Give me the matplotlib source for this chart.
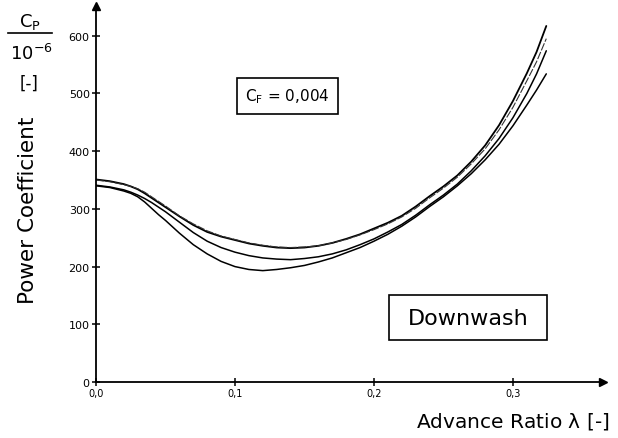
import matplotlib
matplotlib.use('Agg')
import matplotlib.pyplot as plt
from matplotlib.patches import Rectangle
from matplotlib.lines import Line2D

W, H = 618, 439

lam = [0.0, 0.01, 0.02, 0.025, 0.03, 0.035, 0.04, 0.045, 0.05, 0.06, 0.07,
       0.08, 0.09, 0.10, 0.11, 0.12, 0.13, 0.14, 0.15, 0.16, 0.17, 0.18,
       0.19, 0.20, 0.21, 0.22, 0.23, 0.24, 0.25, 0.26, 0.27, 0.28, 0.29,
       0.30, 0.31, 0.317, 0.324]

cp_a = [351, 348, 343, 339, 334, 327, 319, 311, 303, 287, 272,
        260, 252, 246, 240, 236, 233, 232, 233, 236, 241, 248,
        256, 266, 276, 288, 304, 322, 339, 358, 382, 410, 445,
        487, 535, 572, 617]
cp_b = [350, 347, 342, 339, 335, 329, 321, 313, 305, 288, 274,
        262, 253, 247, 241, 237, 234, 233, 234, 236, 241, 247,
        255, 264, 274, 286, 301, 319, 336, 355, 378, 404, 437,
        476, 522, 555, 595]
cp_c = [341, 338, 333, 329, 324, 318, 311, 303, 295, 277, 259,
        244, 233, 225, 219, 215, 213, 212, 214, 217, 222, 229,
        238, 248, 260, 273, 289, 307, 324, 343, 366, 392, 422,
        458, 500, 534, 574]
cp_d = [340, 337, 331, 327, 321, 312, 301, 290, 280, 258, 238,
        222, 209, 200, 195, 193, 195, 198, 202, 208, 215, 224,
        233, 244, 256, 270, 286, 304, 321, 340, 361, 385, 412,
        444, 480, 506, 534]

x_ticks = [0.0, 0.1, 0.2, 0.3]
x_tick_labels = ["0,0", "0,1", "0,2", "0,3"]
y_ticks = [0, 100, 200, 300, 400, 500, 600]


def fx(px):
    return px / W


def fy(py):
    return 1 - py / H


fig = plt.figure(figsize=(W / 100, H / 100), dpi=100)
ax = fig.add_axes([fx(96), fy(383), fx(603) - fx(96), fy(7) - fy(383)])
ax.set_xlim(0, 0.3648)
ax.set_ylim(0, 651.6)

# ── curves ────────────────────────────────────────────────────────────────
ax.plot(lam, cp_a, color='black', lw=1.3, solid_capstyle='round')
ax.plot(lam, cp_b, color='#333333', lw=0.8, ls=(0, (7, 1.5)))
ax.plot(lam, cp_c, color='black', lw=1.1, solid_capstyle='round')
ax.plot(lam, cp_d, color='black', lw=1.1, solid_capstyle='round')

# ── axes with arrows ──────────────────────────────────────────────────────
for s in ['top', 'right']:
    ax.spines[s].set_visible(False)
for s in ['left', 'bottom']:
    ax.spines[s].set_linewidth(1.3)
ax.plot(1, 0, '>k', ms=6, transform=ax.get_yaxis_transform(), clip_on=False)
ax.plot(0, 1, '^k', ms=6, transform=ax.get_xaxis_transform(), clip_on=False)

ax.set_xticks(x_ticks)
ax.set_xticklabels(x_tick_labels)
ax.set_yticks(y_ticks)
ax.tick_params(axis='both', direction='inout', length=6, width=1.1)
ax.tick_params(axis='y', labelsize=8, pad=1.5)
ax.tick_params(axis='x', labelsize=7, pad=1.5)
ax.set_facecolor('none')

# ── labels ────────────────────────────────────────────────────────────────
fig.text(fx(28), fy(210), "Power Coefficient", rotation=90,
         ha='center', va='center', fontsize=15.5)
fig.text(fx(609), fy(428), r"Advance Ratio $\mathregular{\lambda}$ [-]",
         ha='right', va='baseline', fontsize=14.5)

fig.text(fx(30), fy(22), r"C$_\mathregular{P}$", ha='center', va='center',
         fontsize=13)
fig.add_artist(Line2D([fx(8), fx(52)], [fy(34), fy(34)], color='black',
                      lw=1.2, transform=fig.transFigure))
fig.text(fx(31), fy(54), r"10$^\mathregular{-6}$", ha='center', va='center',
         fontsize=13)
fig.text(fx(29), fy(84), "[-]", ha='center', va='center', fontsize=12)

# ── annotation boxes ──────────────────────────────────────────────────────
fig.add_artist(Rectangle((fx(237), fy(115)), fx(338) - fx(237),
                         fy(79) - fy(115), fill=False, lw=1.2,
                         transform=fig.transFigure))
fig.text(fx(287), fy(97), r"C$_\mathregular{F}$ = 0,004", ha='center',
         va='center', fontsize=11)

fig.add_artist(Rectangle((fx(389), fy(341)), fx(547) - fx(389),
                         fy(296) - fy(341), fill=False, lw=1.2,
                         transform=fig.transFigure))
fig.text(fx(468), fy(319), "Downwash", ha='center', va='center', fontsize=16)

fig.savefig("out.png", dpi=100)
